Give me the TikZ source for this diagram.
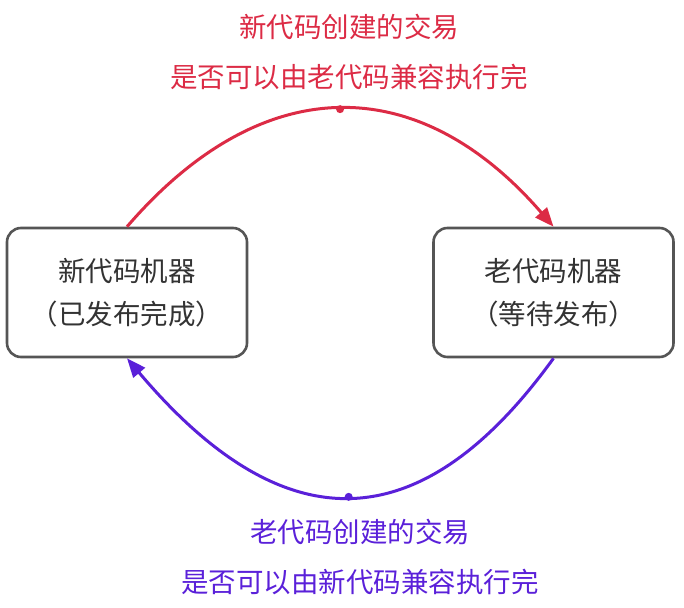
\documentclass[tikz,border=0pt]{standalone}
\usepackage{fontspec}
\setmainfont{Noto Sans CJK SC}
\usetikzlibrary{arrows.meta}
\definecolor{newred}{HTML}{DC2B45}
\definecolor{oldpurple}{HTML}{5A20D9}
\definecolor{boxgray}{HTML}{555555}
\definecolor{textgray}{HTML}{333333}

\begin{document}
\begin{tikzpicture}[x=1pt,y=-1pt,
  machine/.style={draw=boxgray,line width=2.6pt,rounded corners=14pt,
    minimum width=240pt,minimum height=129pt,align=center,text=textgray,
    font=\fontsize{27.5}{43}\selectfont},
  flow/.style={line width=3pt,-{Triangle[length=19pt,width=15pt]}},
  note/.style={align=center,font=\fontsize{27.5}{50}\selectfont},
  handle/.style={circle,fill,inner sep=0pt,minimum size=8pt}]
\useasboundingbox (0,0) rectangle (684,607);
\node[machine] (new) at (127,292.5) {新代码机器\\（已发布完成）};
\node[machine] (old) at (553.5,292.5) {老代码机器\\（等待发布）};
\draw[flow,newred] (new.north) .. controls (262,70) and (418,70) .. node[handle,pos=.5] (redmid) {} (old.north);
\draw[flow,oldpurple] (old.south) .. controls (420,543) and (283,543) .. node[handle,pos=.5] (purplemid) {} (new.south);
\node[note,text=newred] (redtext) at (349,52) {新代码创建的交易\\是否可以由老代码兼容执行完};
\node[note,text=oldpurple] (purpletext) at (360,556.5) {老代码创建的交易\\是否可以由新代码兼容执行完};
\end{tikzpicture}
\end{document}
